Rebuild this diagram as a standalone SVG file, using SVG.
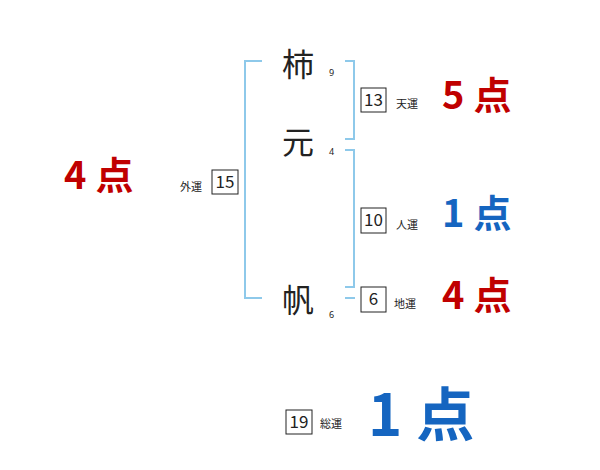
<svg xmlns="http://www.w3.org/2000/svg" width="600" height="470" viewBox="0 0 600 470">
<style>
.br{fill:none;stroke:#8ec9ea;stroke-width:2}
.bx{fill:#fff;stroke:#222;stroke-width:1}
.num{font-family:"Noto Sans CJK JP","Noto Sans",sans-serif;font-size:17px;fill:#222;text-anchor:middle}
.lab{font-family:"Noto Sans CJK JP",sans-serif;font-size:11px;fill:#222}
.ch{font-family:"Noto Sans CJK JP",sans-serif;font-size:32px;fill:#222;text-anchor:middle}
.sm{font-family:"Noto Sans",sans-serif;font-size:9px;fill:#222}
.red{font-family:"Noto Sans CJK JP",sans-serif;font-size:38px;fill:#c00000;font-weight:bold;letter-spacing:9px}
.blue{font-family:"Noto Sans CJK JP",sans-serif;font-size:38px;fill:#1565c0;font-weight:bold;letter-spacing:9px}
</style>
<rect width="600" height="470" fill="#fff"/>
<g id="connectors">
<path class="br" d="M262,61 H245 V298 H262"/>
<path class="br" d="M345,61 H354 V139 H345"/>
<path class="br" d="M345,150 H354 V287 H345"/>
<path class="br" d="M345,298 H355"/>
</g>
<g id="char1"><text class="ch" x="298" y="76">柿</text><text class="sm" x="329" y="76">9</text></g>
<g id="char2"><text class="ch" x="298" y="154">元</text><text class="sm" x="329" y="155">4</text></g>
<g id="char3"><text class="ch" x="298" y="312">帆</text><text class="sm" x="329" y="318">6</text></g>
<g id="tenun"><rect class="bx" x="361" y="88" width="25" height="24"/><text class="num" x="373.5" y="106">13</text><text class="lab" x="396" y="108">天運</text><text class="red" x="442" y="109">5点</text></g>
<g id="jinun"><rect class="bx" x="361" y="208" width="25" height="25"/><text class="num" x="373.5" y="226">10</text><text class="lab" x="396" y="229">人運</text><text class="blue" x="442" y="227">1点</text></g>
<g id="chiun"><rect class="bx" x="361" y="287" width="25" height="25"/><text class="num" x="373.5" y="305">6</text><text class="lab" x="394" y="308">地運</text><text class="red" x="442" y="309">4点</text></g>
<g id="gaiun"><rect class="bx" x="212" y="170" width="26" height="24"/><text class="num" x="225" y="188">15</text><text class="lab" x="180" y="191">外運</text><text class="red" x="64" y="189">4点</text></g>
<g id="souun"><rect class="bx" x="286" y="410" width="26" height="24"/><text class="num" x="299" y="428">19</text><text class="lab" x="320" y="428">総運</text><text class="blue" style="font-size:58px;letter-spacing:14px" x="368" y="436">1点</text></g>
</svg>
